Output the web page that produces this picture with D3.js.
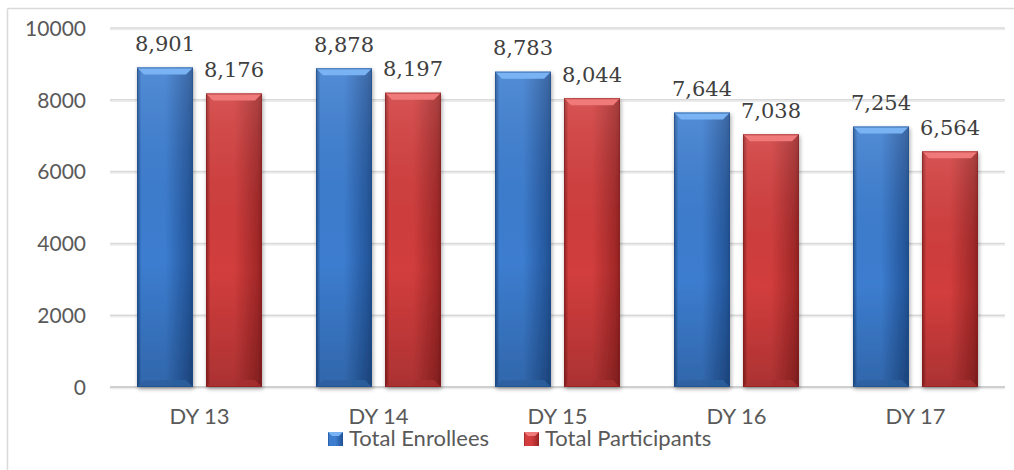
<!DOCTYPE html>
<html><head><meta charset="utf-8">
<script src="https://cdn.jsdelivr.net/npm/d3@7/dist/d3.min.js"></script>
<style>html,body{margin:0;padding:0;background:#fff;overflow:hidden}</style>
</head><body><svg id="c" width="1014" height="470"></svg>
<script>
const categories = ["DY 13","DY 14","DY 15","DY 16","DY 17"];
const seriesNames = ["Total Enrollees","Total Participants"];
const enrollees = [8901, 8878, 8783, 7644, 7254];
const participants = [8176, 8197, 8044, 7038, 6564];
const yTicks = [0, 2000, 4000, 6000, 8000, 10000];

const svg = d3.select("#c");
const W = 1014, H = 470;
const plotLeft = 110, plotRight = 1005, plotTop = 28, plotBottom = 387;
const sansFont = "Lato, 'Open Sans', sans-serif";
const serifFont = "'DejaVu Serif', serif";
const textCol = "#595959";

const defs = svg.append("defs");
const palettes = [
  {id:"blue", mid:"#3c7dd0", dark:"#25589e", edge:"#1f4e8c", topc:"#7ab3f3", bot:"#2d609f"},
  {id:"red", mid:"#d23d3d", dark:"#a32828", edge:"#8c2020", topc:"#f07a7a", bot:"#a83030"}
];
palettes.forEach(p => {
  const g = defs.append("linearGradient").attr("id","h-"+p.id).attr("x1","0").attr("x2","1").attr("y1","0").attr("y2","0");
  g.append("stop").attr("offset","0").attr("stop-color",p.edge);
  g.append("stop").attr("offset","0.08").attr("stop-color",p.mid);
  g.append("stop").attr("offset","0.5").attr("stop-color",p.mid);
  g.append("stop").attr("offset","0.92").attr("stop-color",p.dark);
  g.append("stop").attr("offset","1").attr("stop-color",p.edge);
  const v = defs.append("linearGradient").attr("id","v-"+p.id).attr("x1","0").attr("x2","0").attr("y1","0").attr("y2","1");
  v.append("stop").attr("offset","0").attr("stop-color","#fff").attr("stop-opacity",0.12);
  v.append("stop").attr("offset","0.6").attr("stop-color","#000").attr("stop-opacity",0.0);
  v.append("stop").attr("offset","1").attr("stop-color","#000").attr("stop-opacity",0.18);
});
const shadow = defs.append("filter").attr("id","sh").attr("x","-20%").attr("y","-20%").attr("width","140%").attr("height","140%");
shadow.append("feGaussianBlur").attr("in","SourceAlpha").attr("stdDeviation",2);
shadow.append("feOffset").attr("dx",1).attr("dy",2).attr("result","o");
shadow.append("feComponentTransfer").append("feFuncA").attr("type","linear").attr("slope",0.35);
const fm = shadow.append("feMerge"); fm.append("feMergeNode"); fm.append("feMergeNode").attr("in","SourceGraphic");

// frame
svg.append("line").attr("x1",7.5).attr("x2",W).attr("y1",8.5).attr("y2",8.5).attr("stroke","#d9d9d9").attr("stroke-width",1.5);
svg.append("line").attr("x1",7.5).attr("x2",7.5).attr("y1",8.5).attr("y2",H).attr("stroke","#d9d9d9").attr("stroke-width",1.5);

const x0 = d3.scaleBand().domain(categories).range([plotLeft, plotRight]);
const y = d3.scaleLinear().domain([0, 10000]).range([plotBottom, plotTop]);
const barW = 56, gap = 13;

// gridlines
const grid = svg.append("g");
yTicks.forEach(t => {
  grid.append("line").attr("x1",plotLeft).attr("x2",plotRight).attr("y1",y(t)+1.5).attr("y2",y(t)+1.5)
    .attr("stroke","#ececec").attr("stroke-width",1.5);
  grid.append("line").attr("x1",plotLeft).attr("x2",plotRight).attr("y1",y(t)).attr("y2",y(t))
    .attr("stroke", t===0 ? "#cfcfcf" : "#d9d9d9").attr("stroke-width", t===0 ? 2 : 1.5);
});

// y axis labels
const yAxis = d3.axisLeft(y).tickValues(yTicks).tickFormat(d3.format("d")).tickSize(0).tickPadding(0);
const ya = svg.append("g").attr("transform",`translate(86,0)`).call(yAxis);
ya.select(".domain").remove();
ya.selectAll("text").attr("font-family",sansFont).attr("font-size",21).attr("fill",textCol).attr("dy","0.35em");

// x axis labels
const xAxis = d3.axisBottom(x0).tickSize(0).tickPadding(0);
const xa = svg.append("g").attr("transform",`translate(0,${plotBottom})`).call(xAxis);
xa.select(".domain").remove();
xa.selectAll("text").attr("font-family",sansFont).attr("font-size",22).attr("fill",textCol).attr("dy",0).attr("y",37);

// bars
const series = [enrollees, participants];
const fmt = d3.format(",");
function drawBar(g, bx, by, bw, bh, p) {
  const b = Math.min(7, bh/2);
  const bg = g.append("g").attr("filter","url(#sh)");
  bg.append("rect").attr("x",bx).attr("y",by).attr("width",bw).attr("height",bh).attr("fill",`url(#h-${p.id})`);
  bg.append("rect").attr("x",bx).attr("y",by).attr("width",bw).attr("height",bh).attr("fill",`url(#v-${p.id})`);
  bg.append("polygon").attr("points",[[bx,by],[bx+bw,by],[bx+bw-b,by+b],[bx+b,by+b]].map(q=>q.join(",")).join(" ")).attr("fill",p.topc);
  bg.append("polygon").attr("points",[[bx,by+bh],[bx+bw,by+bh],[bx+bw-b,by+bh-b],[bx+b,by+bh-b]].map(q=>q.join(",")).join(" ")).attr("fill",p.bot).attr("opacity",0.8);
  bg.append("rect").attr("x",bx+0.5).attr("y",by+0.5).attr("width",bw-1).attr("height",bh-1).attr("fill","none").attr("stroke",p.edge).attr("stroke-opacity",0.6).attr("stroke-width",1);
}
categories.forEach((c, i) => {
  const cx = x0(c) + x0.bandwidth()/2;
  series.forEach((s, k) => {
    const bx = k===0 ? cx - gap/2 - barW : cx + gap/2;
    const by = y(s[i]);
    drawBar(svg, bx, by, barW, y(0)-by, palettes[k]);
    svg.append("text").attr("x",bx+barW/2).attr("y",by-16.5).attr("text-anchor","middle")
      .attr("font-family",serifFont).attr("font-size",21).attr("fill","#404040").text(fmt(s[i]));
  });
});

// legend
const leg = svg.append("g");
const legX = [328, 524];
seriesNames.forEach((n, k) => {
  const p = palettes[k];
  const lg = leg.append("g").attr("transform",`translate(${legX[k]},432)`);
  lg.append("rect").attr("width",15).attr("height",14).attr("fill",`url(#h-${p.id})`);
  lg.append("polygon").attr("points","0,0 15,0 11,4 4,4").attr("fill",p.topc);
  lg.append("text").attr("x",21).attr("y",14).attr("font-family",sansFont).attr("font-size",22).attr("fill",textCol).text(n);
});
</script></body></html>
